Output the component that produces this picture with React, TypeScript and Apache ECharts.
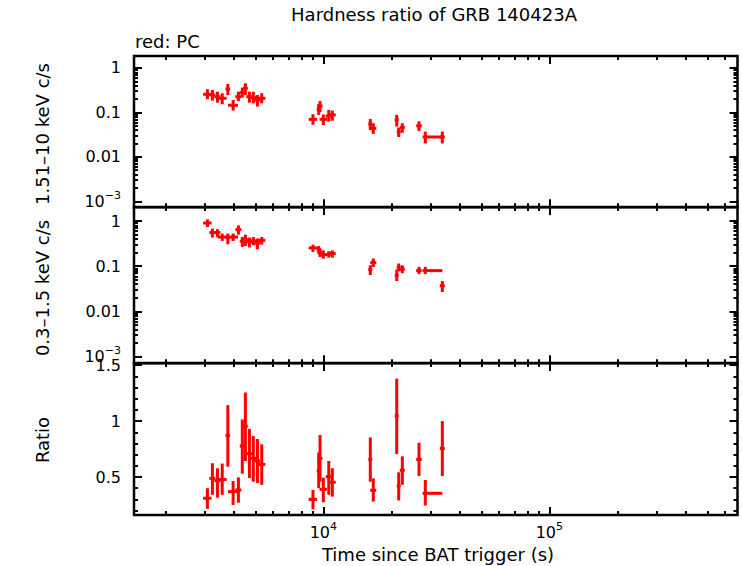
import React, { useEffect, useRef } from "react";
import * as echarts from "echarts";

const FONT = "DejaVu Sans";
const RED = "#ff0000";

// time since trigger (s) and its errors
const times = [3070, 3230, 3400, 3570, 3780, 3990, 4210, 4380, 4520, 4710, 4900, 5110, 5340, 9000, 9540, 9670, 10000, 10570, 10960, 16140, 16640, 21130, 21560, 22370, 26510, 28270, 33620];
const timeErrLo = [131, 99, 104, 164, 89, 203, 129, 112, 115, 144, 150, 140, 201, 386, 195, 246, 377, 323, 391, 329, 509, 431, 440, 570, 757, 778, 857];
const timeErrHi = [131, 99, 104, 164, 89, 203, 129, 112, 115, 144, 150, 140, 201, 386, 195, 246, 377, 323, 391, 329, 509, 431, 440, 570, 757, 5350, 857];

// 1.51-10 keV rate
const hard = [0.256, 0.247, 0.226, 0.208, 0.337, 0.145, 0.226, 0.278, 0.35, 0.226, 0.215, 0.191, 0.208, 0.07, 0.118, 0.14, 0.07, 0.083, 0.088, 0.055, 0.044, 0.068, 0.037, 0.046, 0.05, 0.028, 0.028];
const hardLo = [0.198, 0.184, 0.166, 0.153, 0.247, 0.11, 0.18, 0.215, 0.247, 0.166, 0.16, 0.135, 0.16, 0.053, 0.088, 0.102, 0.052, 0.062, 0.065, 0.04, 0.033, 0.048, 0.028, 0.035, 0.038, 0.02, 0.02];
const hardHi = [0.332, 0.32, 0.293, 0.27, 0.437, 0.191, 0.293, 0.361, 0.453, 0.293, 0.293, 0.247, 0.27, 0.091, 0.153, 0.18, 0.09, 0.114, 0.11, 0.071, 0.057, 0.088, 0.046, 0.057, 0.063, 0.037, 0.037];

// 0.3-1.5 keV rate
const soft = [0.904, 0.555, 0.555, 0.443, 0.43, 0.443, 0.646, 0.356, 0.389, 0.344, 0.362, 0.327, 0.375, 0.254, 0.234, 0.197, 0.181, 0.181, 0.191, 0.084, 0.12, 0.063, 0.094, 0.086, 0.08, 0.08, 0.037];
const softLo = [0.737, 0.43, 0.44, 0.362, 0.306, 0.362, 0.5, 0.267, 0.28, 0.26, 0.29, 0.237, 0.3, 0.207, 0.2, 0.16, 0.147, 0.155, 0.155, 0.064, 0.096, 0.047, 0.077, 0.07, 0.067, 0.067, 0.027];
const softHi = [1.09, 0.68, 0.66, 0.527, 0.527, 0.527, 0.8, 0.443, 0.5, 0.43, 0.443, 0.41, 0.443, 0.3, 0.28, 0.246, 0.224, 0.215, 0.224, 0.105, 0.148, 0.084, 0.115, 0.105, 0.097, 0.097, 0.047];

// hardness ratio
const ratio = [0.31, 0.488, 0.467, 0.478, 0.872, 0.369, 0.384, 0.777, 0.955, 0.708, 0.667, 0.643, 0.613, 0.3, 0.554, 0.667, 0.39, 0.503, 0.453, 0.658, 0.381, 1.048, 0.42, 0.56, 0.658, 0.354, 0.756];
const ratioLo = [0.215, 0.34, 0.315, 0.34, 0.592, 0.25, 0.27, 0.53, 0.643, 0.49, 0.458, 0.446, 0.43, 0.21, 0.4, 0.458, 0.274, 0.34, 0.324, 0.458, 0.28, 0.705, 0.29, 0.43, 0.51, 0.245, 0.51];
const ratioHi = [0.4, 0.623, 0.578, 0.62, 1.143, 0.464, 0.497, 1.015, 1.256, 0.93, 0.866, 0.84, 0.792, 0.384, 0.72, 0.875, 0.494, 0.643, 0.578, 0.854, 0.488, 1.38, 0.542, 0.685, 0.806, 0.473, 1.0];

// ticks
const xMajorTicks = [10000, 100000];
const xMinorTicks = [2000, 3000, 4000, 5000, 6000, 7000, 8000, 9000, 20000, 30000, 40000, 50000, 60000, 70000, 80000, 90000, 200000, 300000, 400000, 500000, 600000];
const logMajorTicks = [0.001, 0.01, 0.1, 1];
const logMinorTicks = [0.002, 0.003, 0.004, 0.005, 0.006, 0.007, 0.008, 0.009, 0.02, 0.03, 0.04, 0.05, 0.06, 0.07, 0.08, 0.09, 0.2, 0.3, 0.4, 0.5, 0.6, 0.7, 0.8, 0.9];
const ratioMajorTicks = [0.5, 1, 1.5];
const ratioMinorTicks = [0.2, 0.3, 0.4, 0.6, 0.7, 0.8, 0.9, 1.1, 1.2, 1.3, 1.4];

const X_MIN = 1453;
const X_MAX = 680400;

const tickLine = { color: "#000", width: 2 };
const rich = {
  b: { fontFamily: FONT, fontSize: 16, color: "#000" },
  s: { fontFamily: FONT, fontSize: 11, color: "#000", padding: [0, 0, 12, 0] },
};

function xAxes(grid: number, labels: boolean) {
  const base = {
    gridIndex: grid,
    type: "log",
    logBase: 10,
    min: X_MIN,
    max: X_MAX,
    splitLine: { show: false },
    axisLine: { show: false, onZero: false },
  };
  const make = (position: string, ticks: number[], length: number, showLabel: boolean) => ({
    ...base,
    position,
    axisTick: { show: true, inside: true, length, customValues: ticks, lineStyle: tickLine },
    axisLabel: showLabel
      ? {
          show: true,
          margin: 6,
          customValues: ticks,
          formatter: (v: number) => `{b|10}{s|${Math.round(Math.log10(v))}}`,
          rich,
        }
      : { show: false },
  });
  return [
    make("bottom", xMajorTicks, 8, labels),
    make("bottom", xMinorTicks, 4, false),
    make("top", xMajorTicks, 8, false),
    make("top", xMinorTicks, 4, false),
  ];
}

function yAxes(grid: number, log: boolean, min: number, max: number) {
  const major = log ? logMajorTicks : ratioMajorTicks;
  const minor = log ? logMinorTicks : ratioMinorTicks;
  const base: any = {
    gridIndex: grid,
    type: log ? "log" : "value",
    min,
    max,
    splitLine: { show: false },
    axisLine: { show: false, onZero: false },
  };
  if (log) base.logBase = 10;
  const make = (position: string, ticks: number[], length: number, showLabel: boolean) => ({
    ...base,
    position,
    axisTick: { show: true, inside: true, length, customValues: ticks, lineStyle: tickLine },
    axisLabel: showLabel
      ? {
          show: true,
          margin: 13,
          customValues: ticks,
          fontFamily: FONT,
          fontSize: 16,
          color: "#000",
          formatter: (v: number) => (v < 0.005 ? "{b|10}{s|−3}" : String(v)),
          rich,
        }
      : { show: false },
  });
  return [
    make("left", major, 8, true),
    make("left", minor, 4, false),
    make("right", major, 8, false),
    make("right", minor, 4, false),
  ];
}

function errorSeries(grid: number, vals: number[], lo: number[], hi: number[]) {
  const data = times.map((t, i) => [t, vals[i], t - timeErrLo[i], t + timeErrHi[i], lo[i], hi[i]]);
  return {
    type: "custom",
    xAxisIndex: grid * 4,
    yAxisIndex: grid * 4,
    data,
    encode: { x: [0, 2, 3], y: [1, 4, 5] },
    renderItem: (_params: any, api: any) => {
      const t = api.value(0);
      const v = api.value(1);
      const l = api.coord([api.value(2), v]);
      const r = api.coord([api.value(3), v]);
      const b = api.coord([t, api.value(4)]);
      const u = api.coord([t, api.value(5)]);
      const style = { stroke: RED, lineWidth: 3 };
      return {
        type: "group",
        children: [
          { type: "line", shape: { x1: l[0], y1: l[1], x2: r[0], y2: r[1] }, style },
          { type: "line", shape: { x1: b[0], y1: b[1], x2: u[0], y2: u[1] }, style },
        ],
      };
    },
  };
}

const App: React.FC = () => {
  const chartRef = useRef<HTMLDivElement>(null);

  useEffect(() => {
    if (!chartRef.current) return;
    const chart = echarts.init(chartRef.current, undefined, { renderer: "svg" });

    const gridBase = {
      show: true,
      left: 134,
      width: 603.5,
      borderColor: "#000",
      borderWidth: 2.5,
      backgroundColor: "transparent",
      containLabel: false,
      outerBoundsMode: "none",
    };

    const nameText = (text: string, x: number, y: number, rotate = false) => ({
      type: "text",
      x,
      y,
      rotation: rotate ? Math.PI / 2 : 0,
      style: {
        text,
        fontFamily: FONT,
        fontSize: 18,
        fill: "#000",
        align: "center",
        verticalAlign: "middle",
      },
    });

    const option: any = {
      animation: false,
      backgroundColor: "#fff",
      grid: [
        { ...gridBase, top: 56, height: 151.3 },
        { ...gridBase, top: 207, height: 156.3 },
        { ...gridBase, top: 363, height: 152 },
      ],
      xAxis: [...xAxes(0, false), ...xAxes(1, false), ...xAxes(2, true)],
      yAxis: [
        ...yAxes(0, true, 7.33e-4, 1.861),
        ...yAxes(1, true, 7.15e-4, 2.04),
        ...yAxes(2, false, 0.16, 1.52),
      ],
      series: [
        errorSeries(0, hard, hardLo, hardHi),
        errorSeries(1, soft, softLo, softHi),
        errorSeries(2, ratio, ratioLo, ratioHi),
      ],
      graphic: [
        nameText("Hardness ratio of GRB 140423A", 434, 14),
        { ...nameText("red: PC", 135, 41), style: { ...nameText("", 0, 0).style, text: "red: PC", align: "left" } },
        nameText("1.51–10 keV c/s", 42, 134, true),
        nameText("0.3–1.5 keV c/s", 42, 288, true),
        nameText("Ratio", 42, 440, true),
        nameText("Time since BAT trigger (s)", 438, 554),
      ],
    };

    chart.setOption(option);
    return () => chart.dispose();
  }, []);

  return (
    <div
      ref={chartRef}
      style={{ position: "absolute", left: 0, top: 0, width: 742, height: 566 }}
    />
  );
};

export default App;
